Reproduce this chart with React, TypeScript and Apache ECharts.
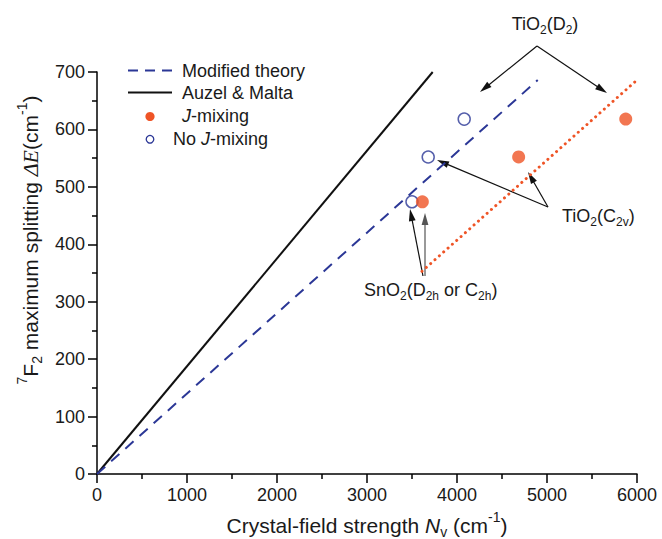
import React, { useEffect, useRef } from "react";
import * as echarts from "echarts";

// ---- data ----
const modifiedTheory: number[][] = [[0, 0], [4897, 686]];
const auzelMalta: number[][] = [[0, 0], [3730, 700]];
const jMixingFit: number[][] = [[3611, 353], [5978, 683]];
const jMixing: number[][] = [[3615, 474], [4685, 552], [5875, 618]];
const noJMixing: number[][] = [[3500, 474], [3680, 552], [4080, 618]];
const xRange = { min: 0, max: 6000, interval: 1000 };
const yRange = { min: 0, max: 700, interval: 100 };

const FONT = "Liberation Sans, Arial, sans-serif";
const SERIF = "Liberation Serif, Times New Roman, serif";
const TXT = "#1a1a1a";
const BLUE = "#2b3796";
const ORANGE = "#ef5426";

const rich = {
  n: { fontSize: 18, fontFamily: FONT, color: TXT, lineHeight: 26 },
  i: { fontSize: 18, fontFamily: FONT, color: TXT, lineHeight: 26, fontStyle: "italic" },
  sub: { fontSize: 12, fontFamily: FONT, color: TXT, lineHeight: 26, padding: [12, 0, 0, 0] },
  sup: { fontSize: 12, fontFamily: FONT, color: TXT, lineHeight: 26, padding: [0, 0, 14, 0] },
};

const richBig = {
  n: { fontSize: 21, fontFamily: FONT, color: TXT, lineHeight: 28 },
  i: { fontSize: 21, fontFamily: FONT, color: TXT, lineHeight: 28, fontStyle: "italic" },
  ser: { fontSize: 22, fontFamily: SERIF, color: TXT, lineHeight: 28, fontStyle: "italic" },
  sub: { fontSize: 14, fontFamily: FONT, color: TXT, lineHeight: 28, padding: [14, 0, 0, 0] },
  sup: { fontSize: 14, fontFamily: FONT, color: TXT, lineHeight: 28, padding: [0, 0, 16, 0] },
};

function arrow(x1: number, y1: number, x2: number, y2: number, color = "#111") {
  const dx = x2 - x1;
  const dy = y2 - y1;
  const len = Math.sqrt(dx * dx + dy * dy);
  const ux = dx / len;
  const uy = dy / len;
  const hl = 12;
  const hw = 3.4;
  const bx = x2 - ux * hl;
  const by = y2 - uy * hl;
  return [
    {
      type: "line",
      shape: { x1, y1, x2: bx + ux * 2, y2: by + uy * 2 },
      style: { stroke: color, lineWidth: 1.2 },
    },
    {
      type: "polygon",
      shape: {
        points: [
          [x2, y2],
          [bx - uy * hw, by + ux * hw],
          [bx + uy * hw, by - ux * hw],
        ],
      },
      style: { fill: color },
    },
  ];
}

function textEl(x: number, y: number, text: string, align = "left", extra: any = {}, r: any = rich) {
  return {
    type: "text",
    x,
    y,
    ...extra,
    style: { text, align, verticalAlign: "middle", rich: r, font: `18px ${FONT}`, fill: TXT },
  };
}

export default function App() {
  const ref = useRef<HTMLDivElement>(null);
  useEffect(() => {
    document.body.style.margin = "0";
    if (!ref.current) return;
    const chart = echarts.init(ref.current, undefined, { renderer: "svg" });
    const axisCommon = {
      type: "value",
      axisLine: { show: true, onZero: false, lineStyle: { color: "#000", width: 1.5 } },
      axisTick: { show: true, inside: false, length: 9, lineStyle: { color: "#000", width: 1.5 } },
      minorTick: { show: true, splitNumber: 2, length: 5, lineStyle: { color: "#000", width: 1.5 } },
      splitLine: { show: false },
      minorSplitLine: { show: false },
    };
    const labelStyle = {
      fontSize: 18,
      fontFamily: FONT,
      color: TXT,
      margin: 12,
      formatter: (v: number) => String(v),
    };
    const graphic: any[] = [
      // legend
      { type: "line", shape: { x1: 128, y1: 70.5, x2: 172, y2: 70.5 }, style: { stroke: BLUE, lineWidth: 2, lineDash: [10, 7] } },
      textEl(182, 71, "{n|Modified theory}"),
      { type: "line", shape: { x1: 128, y1: 92.5, x2: 172, y2: 92.5 }, style: { stroke: "#111", lineWidth: 2 } },
      textEl(182, 93, "{n|Auzel & Malta}"),
      { type: "circle", shape: { cx: 150, cy: 116.5, r: 4.6 }, style: { fill: ORANGE } },
      textEl(182, 116, "{i|J}{n|-mixing}"),
      { type: "circle", shape: { cx: 150, cy: 139.3, r: 3.8 }, style: { fill: "#fff", stroke: BLUE, lineWidth: 1.3 } },
      textEl(173, 139, "{n|No }{i|J}{n|-mixing}"),
      // annotations
      textEl(545, 24, "{n|TiO}{sub|2}{n|(D}{sub|2}{n|)}", "center"),
      ...arrow(537, 46, 480, 92),
      ...arrow(537, 46, 607, 93),
      textEl(562, 216, "{n|TiO}{sub|2}{n|(C}{sub|2v}{n|)}"),
      ...arrow(548, 207, 437, 160),
      ...arrow(548, 207, 528, 172),
      textEl(364, 290, "{n|SnO}{sub|2}{n|(D}{sub|2h}{n| or C}{sub|2h}{n|)}"),
      ...arrow(423, 276, 410, 209),
      ...arrow(425, 276, 425, 213, "#555"),
      // y axis title
      textEl(
        30,
        240,
        "{sup|7}{n|F}{sub|2}{n| maximum splitting }{ser|ΔE}{n|(cm}{sup|-1}{n|)}",
        "center",
        { rotation: Math.PI / 2 },
        richBig
      ),
    ];
    chart.setOption({
      animation: false,
      backgroundColor: "#fff",
      grid: { left: 97, right: 25, top: 72, bottom: 65, containLabel: false, outerBoundsMode: "none" },
      xAxis: {
        ...axisCommon,
        ...xRange,
        axisLabel: labelStyle,
        name: "{n|Crystal-field strength }{i|N}{sub|v}{n| (cm}{sup|-1}{n|)}",
        nameLocation: "middle",
        nameGap: 37,
        nameTextStyle: { rich: richBig, fontSize: 21, fontFamily: FONT, color: TXT },
      },
      yAxis: {
        ...axisCommon,
        ...yRange,
        axisLabel: labelStyle,
      },
      series: [
        {
          name: "Auzel & Malta",
          type: "line",
          data: auzelMalta,
          symbol: "none",
          lineStyle: { color: "#111", width: 2 },
          z: 2,
        },
        {
          name: "Modified theory",
          type: "line",
          data: modifiedTheory,
          symbol: "none",
          lineStyle: { color: BLUE, width: 2, type: [11, 8] },
          z: 2,
        },
        {
          name: "J-mixing fit",
          type: "line",
          data: jMixingFit,
          symbol: "none",
          lineStyle: { color: ORANGE, width: 3, type: [0.01, 5.8], cap: "round" },
          z: 2,
        },
        {
          name: "No J-mixing",
          type: "scatter",
          data: noJMixing,
          symbol: "circle",
          symbolSize: 12,
          itemStyle: { color: "#fff", borderColor: BLUE, borderWidth: 1.5 },
          z: 3,
        },
        {
          name: "J-mixing",
          type: "scatter",
          data: jMixing,
          symbol: "circle",
          symbolSize: 13,
          itemStyle: { color: ORANGE },
          z: 4,
        },
      ],
      graphic,
    });
    return () => chart.dispose();
  }, []);
  return <div ref={ref} style={{ width: 662, height: 539 }} />;
}
